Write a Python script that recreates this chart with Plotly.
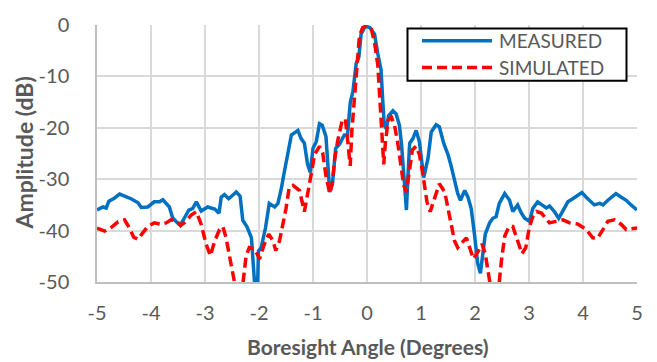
import plotly.graph_objects as go

# ---------------- data ----------------
meas_x = [-5.00, -4.89, -4.83, -4.78, -4.68, -4.58, -4.49, -4.37, -4.24, -4.18, -4.06, -3.94, -3.84, -3.78,
          -3.66, -3.60, -3.52, -3.46, -3.38, -3.30, -3.23, -3.16, -3.07, -2.95, -2.82, -2.74, -2.70, -2.64,
          -2.56, -2.42, -2.35, -2.30, -2.22, -2.14, -2.10, -2.07, -2.03, -2.01, -1.96, -1.88, -1.81, -1.71,
          -1.65, -1.59, -1.53, -1.47, -1.40, -1.28, -1.22, -1.16, -1.10, -1.05, -1.00, -0.94, -0.88, -0.83,
          -0.76, -0.69, -0.64, -0.58, -0.51, -0.42, -0.36, -0.31, -0.26, -0.20, -0.15, -0.11, -0.03, 0.05,
          0.14, 0.20, 0.26, 0.29, 0.32, 0.36, 0.40, 0.48, 0.54, 0.60, 0.64, 0.69, 0.73, 0.76, 0.79, 0.85,
          0.91, 0.97, 1.05, 1.13, 1.19, 1.28, 1.34, 1.42, 1.50, 1.56, 1.62, 1.68, 1.73, 1.81, 1.87, 1.93,
          1.99, 2.05, 2.10, 2.14, 2.19, 2.27, 2.33, 2.39, 2.45, 2.55, 2.64, 2.70, 2.79, 2.86, 2.92, 3.01,
          3.07, 3.16, 3.23, 3.32, 3.38, 3.47, 3.55, 3.63, 3.72, 3.81, 3.90, 3.98, 4.06, 4.15, 4.21, 4.31,
          4.37, 4.46, 4.54, 4.61, 4.71, 4.80, 4.89, 5.00]
meas_y = [-36.0, -35.4, -35.6, -34.3, -33.7, -32.9, -33.3, -33.8, -34.6, -35.5, -35.4, -34.4, -34.4, -34.0,
          -35.4, -37.5, -38.4, -39.0, -37.5, -36.0, -35.7, -34.4, -36.2, -35.4, -35.8, -36.6, -33.5, -33.0,
          -33.8, -32.5, -33.3, -38.0, -39.3, -41.4, -47.5, -52.0, -52.0, -44.0, -43.3, -39.5, -34.7, -35.4,
          -34.7, -32.0, -28.5, -25.0, -21.4, -20.5, -22.1, -23.0, -27.1, -28.7, -24.0, -22.7, -19.2, -19.5,
          -21.7, -32.5, -30.9, -24.0, -23.2, -21.4, -21.4, -15.1, -12.9, -7.5, -6.2, -1.8, -0.2, -0.5,
          -1.8, -5.6, -8.7, -14.4, -19.5, -20.2, -17.6, -16.7, -17.3, -19.5, -23.3, -30.3, -36.0, -29.0,
          -23.0, -22.1, -20.5, -22.7, -29.7, -25.9, -20.8, -19.4, -19.8, -23.0, -25.2, -27.5, -30.5, -32.8,
          -34.1, -32.2, -33.5, -35.7, -40.7, -46.4, -48.3, -45.2, -40.7, -38.5, -37.6, -37.3, -34.7, -32.8,
          -34.1, -36.3, -35.0, -36.6, -37.6, -38.2, -35.7, -34.4, -35.0, -35.6, -35.2, -36.3, -37.6, -36.0,
          -34.4, -33.8, -33.1, -32.6, -33.5, -34.4, -35.0, -34.7, -35.0, -34.1, -33.5, -32.8, -33.5, -34.1,
          -35.0, -36.0]

sim_x = [-5.00, -4.86, -4.74, -4.61, -4.49, -4.40, -4.32, -4.24, -4.15, -4.06, -3.94, -3.81, -3.72, -3.63,
         -3.53, -3.45, -3.35, -3.26, -3.16, -3.07, -2.98, -2.90, -2.82, -2.73, -2.67, -2.61, -2.52, -2.45,
         -2.40, -2.34, -2.30, -2.24, -2.18, -2.08, -1.99, -1.90, -1.82, -1.74, -1.69, -1.62, -1.56, -1.50,
         -1.44, -1.37, -1.25, -1.16, -1.06, -0.97, -0.88, -0.82, -0.76, -0.69, -0.64, -0.60, -0.54, -0.46,
         -0.40, -0.36, -0.31, -0.28, -0.23, -0.18, -0.14, -0.08, -0.01, 0.08, 0.14, 0.20, 0.24, 0.28, 0.31,
         0.34, 0.39, 0.45, 0.51, 0.57, 0.63, 0.68, 0.73, 0.79, 0.84, 0.91, 0.97, 1.03, 1.11, 1.17, 1.25,
         1.34, 1.44, 1.53, 1.62, 1.68, 1.74, 1.84, 1.90, 1.97, 2.05, 2.13, 2.19, 2.26, 2.32, 2.40, 2.44,
         2.49, 2.55, 2.63, 2.70, 2.79, 2.87, 2.94, 3.01, 3.07, 3.14, 3.23, 3.32, 3.38, 3.50, 3.63, 3.75,
         3.90, 4.06, 4.18, 4.27, 4.37, 4.46, 4.58, 4.71, 4.80, 4.92, 5.00]
sim_y = [-39.5, -40.1, -39.4, -38.3, -37.9, -39.5, -41.3, -41.7, -40.4, -39.2, -38.5, -38.8, -38.5, -37.9,
         -38.1, -39.0, -38.2, -37.0, -36.3, -38.8, -42.6, -44.9, -42.0, -39.8, -39.2, -41.4, -46.4, -50.5,
         -53.0, -53.0, -50.5, -45.0, -43.3, -43.6, -45.5, -42.6, -40.7, -42.0, -43.9, -42.0, -38.8, -35.7,
         -31.6, -31.2, -32.2, -36.3, -30.6, -25.2, -23.6, -24.9, -29.3, -32.8, -30.6, -26.2, -22.4, -18.6,
         -18.3, -23.0, -27.4, -20.5, -13.5, -7.8, -2.1, -0.5, -0.2, -0.8, -3.4, -7.8, -14.1, -21.7, -27.1,
         -23.0, -18.6, -17.9, -19.5, -23.0, -27.4, -31.2, -32.5, -28.1, -24.3, -23.6, -25.2, -28.7, -34.4,
         -36.3, -33.8, -30.9, -32.5, -37.6, -42.0, -43.3, -42.6, -41.4, -43.3, -45.5, -44.2, -42.6, -44.5,
         -49.0, -53.0, -53.0, -51.0, -45.8, -41.1, -39.2, -39.2, -42.0, -44.5, -43.3, -39.2, -37.3, -36.3,
         -36.6, -37.9, -38.5, -38.2, -37.9, -38.5, -38.7, -39.8, -41.4, -41.5, -39.8, -38.2, -37.9, -38.8,
         -39.8, -39.6, -39.5]

x_ticks = [-5, -4, -3, -2, -1, 0, 1, 2, 3, 4, 5]
y_ticks = [0, -10, -20, -30, -40, -50]
series_names = ["MEASURED", "SIMULATED"]

BLUE = "#0070C0"
RED = "#FF0000"
GRAY_TXT = "#595959"
FONT = "Lato"

fig = go.Figure()
fig.add_trace(go.Scatter(x=meas_x, y=meas_y, mode="lines", name=series_names[0],
                         line=dict(color=BLUE, width=3.5), showlegend=False))
fig.add_trace(go.Scatter(x=sim_x, y=sim_y, mode="lines", name=series_names[1],
                         line=dict(color=RED, width=3.5, dash="10px,5px"), showlegend=False))

fig.update_layout(
    width=657, height=362,
    margin=dict(l=97, r=20, t=19, b=80),
    paper_bgcolor="white", plot_bgcolor="white",
    font=dict(family=FONT, color=GRAY_TXT, size=20),
    xaxis=dict(range=[-5, 5], tickvals=x_ticks, ticktext=[str(v) for v in x_ticks],
               showgrid=True, gridcolor="#D9D9D9", gridwidth=1.5,
               showline=True, linecolor="#BFBFBF", linewidth=1.5,
               zeroline=False, ticks="", ticklabelstandoff=12,
               tickfont=dict(size=20, color=GRAY_TXT, family=FONT)),
    yaxis=dict(range=[-50, 0], tickvals=y_ticks, ticktext=[str(v) for v in y_ticks],
               showgrid=True, gridcolor="#D9D9D9", gridwidth=1.5,
               showline=True, linecolor="#BFBFBF", linewidth=1.5,
               zeroline=False, ticks="", ticklabelstandoff=22,
               tickfont=dict(size=20, color=GRAY_TXT, family=FONT)),
)

# axis titles
fig.add_annotation(text="<b>Boresight Angle (Degrees)</b>", xref="paper", yref="paper",
                   x=0.5, y=-0.252, xanchor="center", yanchor="middle", showarrow=False,
                   font=dict(size=21, color=GRAY_TXT, family=FONT))
fig.add_annotation(text="<b>Amplitude (dB)</b>", xref="paper", yref="paper",
                   x=-0.137, y=0.5, xanchor="center", yanchor="middle", showarrow=False,
                   textangle=-90, font=dict(size=23, color=GRAY_TXT, family=FONT))

# custom legend (box, line samples, labels)
def px2paper_x(px):
    return (px - 97.0) / (657 - 97 - 20)

def px2paper_y(py):
    return (362 - 80 - py) / (362 - 80 - 19)

fig.add_shape(type="rect", xref="paper", yref="paper",
              x0=px2paper_x(407.5), x1=px2paper_x(626.5), y0=px2paper_y(76), y1=px2paper_y(22.5),
              line=dict(color="black", width=2), fillcolor="white", layer="above")
fig.add_shape(type="line", xref="paper", yref="paper",
              x0=px2paper_x(422), x1=px2paper_x(492), y0=px2paper_y(35), y1=px2paper_y(35),
              line=dict(color=BLUE, width=3.5), layer="above")
fig.add_shape(type="line", xref="paper", yref="paper",
              x0=px2paper_x(422), x1=px2paper_x(492), y0=px2paper_y(62.5), y1=px2paper_y(62.5),
              line=dict(color=RED, width=3.5, dash="10px,5px"), layer="above")
for name, py in zip(series_names, [35, 62.5]):
    fig.add_annotation(text=name, xref="paper", yref="paper",
                       x=px2paper_x(497), y=px2paper_y(py), xanchor="left", yanchor="middle",
                       showarrow=False, font=dict(size=19, color=GRAY_TXT, family=FONT))

fig.write_html("out.html")
